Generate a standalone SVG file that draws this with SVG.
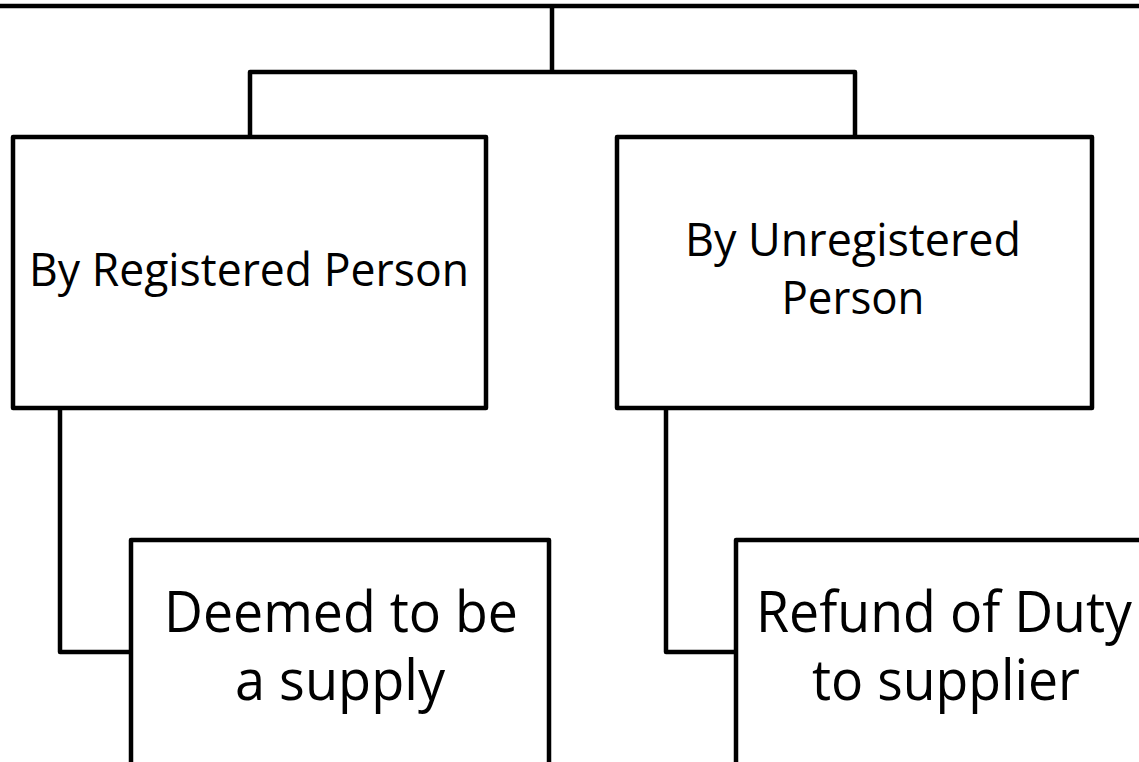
<svg xmlns="http://www.w3.org/2000/svg" width="1139" height="762" viewBox="0 0 1139 762">
<style>
.box{fill:#fff;stroke:#000;stroke-width:4.5;stroke-linejoin:round}
.con{fill:none;stroke:#000;stroke-width:4.5;stroke-linejoin:round}
.t{font-family:"Open Sans","Liberation Sans",sans-serif;fill:#000;text-anchor:middle}
.s{font-size:45px}
.l{font-size:56px}
</style>
<rect width="1139" height="762" fill="#fff"/>
<g id="connectors">
<path class="con" d="M552 6V72M250 137V72H855V137M60 408V652H131M666 408V652H736"/>
</g>
<g id="root">
<rect class="box" x="-10" y="-200" width="1170" height="206"/>
</g>
<g id="registered">
<rect class="box" x="13" y="137" width="473" height="271"/>
<text class="t s" x="249" y="286" textLength="440" lengthAdjust="spacingAndGlyphs">By Registered Person</text>
</g>
<g id="unregistered">
<rect class="box" x="617" y="137" width="475" height="271"/>
<text class="t s" x="853" y="256" textLength="336" lengthAdjust="spacingAndGlyphs">By Unregistered</text>
<text class="t s" x="853" y="314" textLength="143" lengthAdjust="spacingAndGlyphs">Person</text>
</g>
<g id="deemed">
<rect class="box" x="131" y="540" width="418" height="300"/>
<text class="t l" x="341" y="632" textLength="354" lengthAdjust="spacingAndGlyphs">Deemed to be</text>
<text class="t l" x="340" y="700" textLength="210" lengthAdjust="spacingAndGlyphs">a supply</text>
</g>
<g id="refund">
<rect class="box" x="736" y="540" width="418" height="300"/>
<text class="t l" x="944" y="632" textLength="376" lengthAdjust="spacingAndGlyphs">Refund of Duty</text>
<text class="t l" x="946" y="700" textLength="268" lengthAdjust="spacingAndGlyphs">to supplier</text>
</g>
</svg>
